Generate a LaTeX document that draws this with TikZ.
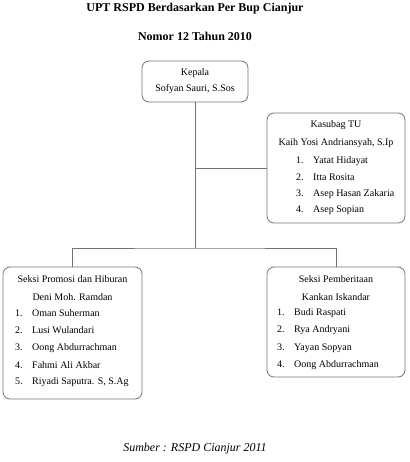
\documentclass[tikz,border=0pt]{standalone}
\usepackage{fontspec}
\setmainfont{Liberation Serif}
\usetikzlibrary{positioning}

\tikzset{
    unitbox/.style={draw=black!55,rounded corners=7pt,line width=0.8pt,inner sep=0pt},
    txt/.style={inner sep=0pt,font=\fontsize{10}{12}\selectfont},
    link/.style={draw=black!55,line width=0.8pt}
}
\newcommand{\nomor}[1]{\makebox[17pt][l]{#1}}

\begin{document}
\begin{tikzpicture}[x=1pt,y=-1pt]
    \useasboundingbox (0,0) rectangle (409,462);

    % titles
    \node[inner sep=0pt,font=\fontsize{12}{14}\selectfont\bfseries] (judul) at (195,9) {UPT RSPD Berdasarkan Per Bup Cianjur};
    \node[inner sep=0pt,font=\fontsize{12}{14}\selectfont\bfseries] (nomor) at (195,36) {Nomor 12 Tahun 2010};

    % boxes
    \begin{scope}[every node/.style={unitbox}]
        \node[minimum width=106pt,minimum height=41pt] (kepala) at (195,81.5) {};
        \node[minimum width=138pt,minimum height=110pt] (kasubag) at (336,168) {};
        \node[minimum width=139pt,minimum height=132pt] (promosi) at (72.5,333) {};
        \node[minimum width=138pt,minimum height=110pt] (berita) at (336,322) {};
    \end{scope}

    % box texts
    \begin{scope}[every node/.style={txt}]
        \node (kepala-1) at (195,73) {Kepala};
        \node (kepala-2) at (195,89.5) {Sofyan Sauri, S.Sos};
        \node (tu-1) at (336,125) {Kasubag TU};
        \node (tu-2) at (336,143) {Kaih Yosi Andriansyah, S.Ip};
        \foreach \nama [count=\i] in {Yatat Hidayat,Itta Rosita,Asep Hasan Zakaria,Asep Sopian}
            \node[anchor=west] (tu-s\i) at (296,161+16.5*\i-16.5) {\nomor{\i.}\nama};
        \node (promosi-1) at (72.5,279) {Seksi Promosi dan Hiburan};
        \node (promosi-2) at (72.5,297.5) {Deni Moh. Ramdan};
        \foreach \nama [count=\i] in {Oman Suherman,Lusi Wulandari,Oong Abdurrachman,Fahmi Ali Akbar,{Riyadi Saputra. S, S.Ag}}
            \node[anchor=west] (promosi-s\i) at (15,313+17.4*\i-17.4) {\nomor{\i.}\nama};
        \node (berita-1) at (336,279) {Seksi Pemberitaan};
        \node (berita-2) at (336,297) {Kankan Iskandar};
        \foreach \nama [count=\i] in {Budi Raspati,Rya Andryani,Yayan Sopyan,Oong Abdurrachman}
            \node[anchor=west] (berita-s\i) at (277,313+17.4*\i-17.4) {\nomor{\i.}\nama};
    \end{scope}

    % connectors
    \coordinate (bus) at (195,248);
    \path[link] (kepala.south) -- (bus);
    \path[link] (kepala.south |- kasubag.west) -- (kasubag.west);
    \path[link] (promosi.north) |- (bus) -| (berita.north);

    % source
    \node[inner sep=0pt,font=\fontsize{12}{14}\selectfont\itshape] (sumber) at (195,449) {Sumber : RSPD Cianjur 2011};
\end{tikzpicture}
\end{document}
